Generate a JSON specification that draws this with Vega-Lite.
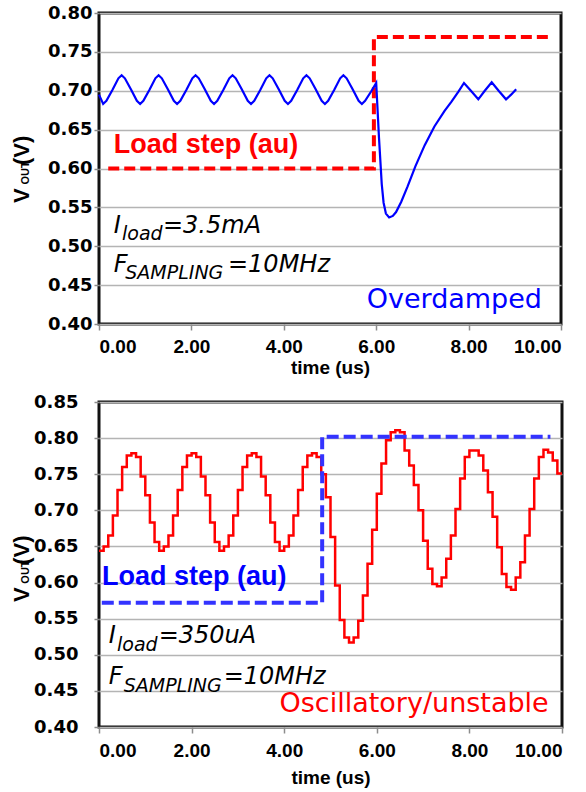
{
"$schema": "https://vega.github.io/schema/vega-lite/v6.json",
"background": "white",
"padding": {"left": 9, "top": 2, "right": 2, "bottom": 2},
"spacing": 12,
"datasets": {
"top_vout": [
{"t":0,"v":0.695},
{"t":0.09,"v":0.683},{"t":0.16,"v":0.687},{"t":0.29,"v":0.701},{"t":0.42,"v":0.716},{"t":0.49,"v":0.72},{"t":0.56,"v":0.716},{"t":0.69,"v":0.702},{"t":0.82,"v":0.687},
{"t":0.89,"v":0.683},{"t":0.96,"v":0.687},{"t":1.09,"v":0.701},{"t":1.22,"v":0.716},{"t":1.29,"v":0.72},{"t":1.36,"v":0.716},{"t":1.49,"v":0.702},{"t":1.62,"v":0.687},
{"t":1.69,"v":0.683},{"t":1.76,"v":0.687},{"t":1.89,"v":0.701},{"t":2.02,"v":0.716},{"t":2.09,"v":0.72},{"t":2.16,"v":0.716},{"t":2.29,"v":0.702},{"t":2.42,"v":0.687},
{"t":2.49,"v":0.683},{"t":2.56,"v":0.687},{"t":2.69,"v":0.701},{"t":2.82,"v":0.716},{"t":2.89,"v":0.72},{"t":2.96,"v":0.716},{"t":3.09,"v":0.702},{"t":3.22,"v":0.687},
{"t":3.29,"v":0.683},{"t":3.36,"v":0.687},{"t":3.49,"v":0.701},{"t":3.62,"v":0.716},{"t":3.69,"v":0.72},{"t":3.76,"v":0.716},{"t":3.89,"v":0.702},{"t":4.02,"v":0.687},
{"t":4.09,"v":0.683},{"t":4.16,"v":0.687},{"t":4.29,"v":0.701},{"t":4.42,"v":0.716},{"t":4.49,"v":0.72},{"t":4.56,"v":0.716},{"t":4.69,"v":0.702},{"t":4.82,"v":0.687},
{"t":4.89,"v":0.683},{"t":4.96,"v":0.687},{"t":5.09,"v":0.701},{"t":5.22,"v":0.716},{"t":5.29,"v":0.72},{"t":5.36,"v":0.716},{"t":5.49,"v":0.702},{"t":5.62,"v":0.687},
{"t":5.69,"v":0.683},{"t":5.76,"v":0.687},{"t":5.89,"v":0.699},{"t":6.0,"v":0.71},{"t":6.06,"v":0.64},{"t":6.12,"v":0.58},{"t":6.16,"v":0.556},{"t":6.21,"v":0.542},{"t":6.28,"v":0.537},{"t":6.36,"v":0.539},{"t":6.43,"v":0.544},{"t":6.54,"v":0.557},{"t":6.68,"v":0.577},{"t":6.85,"v":0.603},{"t":7.05,"v":0.63},{"t":7.26,"v":0.654},{"t":7.48,"v":0.674},{"t":7.63,"v":0.686},{"t":7.78,"v":0.699},{"t":7.9,"v":0.71},{"t":8.05,"v":0.7},{"t":8.21,"v":0.689},{"t":8.35,"v":0.7},{"t":8.5,"v":0.711},{"t":8.65,"v":0.7},{"t":8.81,"v":0.689},{"t":8.92,"v":0.695},{"t":9.03,"v":0.702}
],
"top_step": [
{"i":0,"t":0.2,"v":0.6},{"i":1,"t":5.95,"v":0.6},{"i":2,"t":5.95,"v":0.769},{"i":3,"t":9.77,"v":0.769}
],
"bot_step": [
{"i":0,"t":0.06,"v":0.572},{"i":1,"t":4.82,"v":0.572},{"i":2,"t":4.82,"v":0.802},{"i":3,"t":9.75,"v":0.802}
],
"bot_vout": [
{"t":0.0,"v":0.644},{"t":0.1,"v":0.65},{"t":0.2,"v":0.665},{"t":0.3,"v":0.693},{"t":0.4,"v":0.728},{"t":0.5,"v":0.76},{"t":0.6,"v":0.776},{"t":0.7,"v":0.779},{"t":0.8,"v":0.774},{"t":0.9,"v":0.747},{"t":1.0,"v":0.721},{"t":1.1,"v":0.683},{"t":1.2,"v":0.656},
{"t":1.3,"v":0.644},{"t":1.4,"v":0.65},{"t":1.5,"v":0.665},{"t":1.6,"v":0.693},{"t":1.7,"v":0.728},{"t":1.8,"v":0.76},{"t":1.9,"v":0.776},{"t":2.0,"v":0.779},{"t":2.1,"v":0.774},{"t":2.2,"v":0.747},{"t":2.3,"v":0.721},{"t":2.4,"v":0.683},{"t":2.5,"v":0.656},
{"t":2.6,"v":0.644},{"t":2.7,"v":0.65},{"t":2.8,"v":0.665},{"t":2.9,"v":0.693},{"t":3.0,"v":0.728},{"t":3.1,"v":0.76},{"t":3.2,"v":0.776},{"t":3.3,"v":0.779},{"t":3.4,"v":0.774},{"t":3.5,"v":0.747},{"t":3.6,"v":0.721},{"t":3.7,"v":0.683},{"t":3.8,"v":0.656},
{"t":3.9,"v":0.644},{"t":4.0,"v":0.65},{"t":4.1,"v":0.665},{"t":4.2,"v":0.693},{"t":4.3,"v":0.728},{"t":4.4,"v":0.76},{"t":4.5,"v":0.776},{"t":4.6,"v":0.779},{"t":4.7,"v":0.774},{"t":4.8,"v":0.75},{"t":4.9,"v":0.718},
{"t":5.0,"v":0.663},{"t":5.1,"v":0.596},{"t":5.2,"v":0.548},{"t":5.3,"v":0.524},{"t":5.4,"v":0.517},{"t":5.5,"v":0.524},{"t":5.6,"v":0.547},{"t":5.7,"v":0.582},{"t":5.8,"v":0.626},{"t":5.9,"v":0.673},
{"t":6.0,"v":0.723},{"t":6.1,"v":0.765},{"t":6.2,"v":0.797},{"t":6.3,"v":0.808},{"t":6.4,"v":0.811},{"t":6.5,"v":0.808},{"t":6.6,"v":0.783},{"t":6.7,"v":0.762},{"t":6.8,"v":0.735},{"t":6.9,"v":0.7},
{"t":7.0,"v":0.658},{"t":7.1,"v":0.619},{"t":7.2,"v":0.598},{"t":7.3,"v":0.595},{"t":7.4,"v":0.607},{"t":7.5,"v":0.633},{"t":7.6,"v":0.665},{"t":7.7,"v":0.702},{"t":7.8,"v":0.744},{"t":7.9,"v":0.774},
{"t":8.0,"v":0.783},{"t":8.1,"v":0.783},{"t":8.2,"v":0.776},{"t":8.3,"v":0.755},{"t":8.4,"v":0.725},{"t":8.5,"v":0.691},{"t":8.6,"v":0.649},{"t":8.7,"v":0.612},{"t":8.8,"v":0.594},{"t":8.9,"v":0.59},
{"t":9.0,"v":0.607},{"t":9.1,"v":0.628},{"t":9.2,"v":0.665},{"t":9.3,"v":0.702},{"t":9.4,"v":0.744},{"t":9.5,"v":0.774},{"t":9.6,"v":0.784},{"t":9.7,"v":0.78},{"t":9.8,"v":0.769},{"t":9.9,"v":0.751},{"t":10.0,"v":0.751}
]
},
"config": {
"view": {"stroke": "#111111", "strokeWidth": 3},
"axis": {"domain": false, "labelColor": "#000000", "tickColor": "#8c8c8c", "tickWidth": 1.5, "titleColor": "#000000", "labelOverlap": false}
},
"vconcat": [
{
"width": 462, "height": 311,
"encoding": {
  "x": {"field": "t", "type": "quantitative", "scale": {"domain": [0, 10], "nice": false},
        "axis": {"values": [0, 2, 4, 6, 8, 10], "tickCount": 6, "format": ".2f", "grid": false, "labelOverlap": false, "title": "time (us)", "titleFont": "Liberation Sans", "titleFontSize": 19, "titleFontWeight": "bold", "titlePadding": 2, "labelFont": "Liberation Sans", "labelFontWeight": "bold", "labelFontSize": 19, "labelPadding": 7, "tickSize": 6}},
  "y": {"field": "v", "type": "quantitative", "scale": {"domain": [0.4, 0.8], "nice": false, "zero": false},
        "axis": {"values": [0.4, 0.45, 0.5, 0.55, 0.6, 0.65, 0.7, 0.75, 0.8], "tickCount": 9, "format": ".2f", "labelOverlap": false, "title": null, "grid": true, "gridColor": "#b4b4b4", "gridWidth": 1.5, "labelFont": "DejaVu Sans", "labelFontWeight": "bold", "labelFontSize": 18, "labelPadding": 2, "tickSize": 5}}
},
"layer": [
{"data": {"name": "top_step"},
 "mark": {"type": "line", "color": "#ff0000", "strokeWidth": 4, "strokeDash": [11, 5]},
 "encoding": {"order": {"field": "i"}}},
{"data": {"name": "top_vout"},
 "mark": {"type": "line", "color": "#0000ff", "strokeWidth": 2.2},
 "encoding": {}},
{"data": {"values": [{"t": 0.318, "v": 0.62}]}, "mark": {"type": "text", "text": "Load step (au)", "align": "left", "baseline": "alphabetic", "font": "Liberation Sans", "fontWeight": "bold", "fontSize": 27, "color": "#ff0000"}},
{"data": {"values": [{"t": 0.318, "v": 0.5174}]}, "mark": {"type": "text", "text": "I", "align": "left", "baseline": "alphabetic", "font": "DejaVu Sans", "fontStyle": "italic", "fontSize": 24, "color": "#000000"}},
{"data": {"values": [{"t": 0.498, "v": 0.508}]}, "mark": {"type": "text", "text": "load", "align": "left", "baseline": "alphabetic", "font": "DejaVu Sans", "fontStyle": "italic", "fontSize": 19, "color": "#000000"}},
{"data": {"values": [{"t": 1.385, "v": 0.5174}]}, "mark": {"type": "text", "text": "=3.5mA", "align": "left", "baseline": "alphabetic", "font": "DejaVu Sans", "fontStyle": "italic", "fontSize": 24, "color": "#000000"}},
{"data": {"values": [{"t": 0.318, "v": 0.4673}]}, "mark": {"type": "text", "text": "F", "align": "left", "baseline": "alphabetic", "font": "DejaVu Sans", "fontStyle": "italic", "fontSize": 24, "color": "#000000"}},
{"data": {"values": [{"t": 0.569, "v": 0.4575}]}, "mark": {"type": "text", "text": "SAMPLING", "align": "left", "baseline": "alphabetic", "font": "DejaVu Sans", "fontStyle": "italic", "fontSize": 19, "color": "#000000"}},
{"data": {"values": [{"t": 2.792, "v": 0.4673}]}, "mark": {"type": "text", "text": "=10MHz", "align": "left", "baseline": "alphabetic", "font": "DejaVu Sans", "fontStyle": "italic", "fontSize": 24, "color": "#000000"}},
{"data": {"values": [{"t": 9.589, "v": 0.4202}]}, "mark": {"type": "text", "text": "Overdamped", "align": "right", "baseline": "alphabetic", "font": "DejaVu Sans", "fontSize": 27, "color": "#0000ff"}},
{"data": {"values": [{"t": -1.667, "v": 0.5556}]}, "mark": {"type": "text", "text": "V", "angle": 270, "align": "left", "baseline": "middle", "font": "Liberation Sans", "fontWeight": "bold", "fontSize": 22, "color": "#000000"}},
{"data": {"values": [{"t": -1.58, "v": 0.5795}]}, "mark": {"type": "text", "text": "OUT", "angle": 270, "align": "left", "baseline": "middle", "font": "Liberation Sans", "fontWeight": "bold", "fontSize": 11, "color": "#000000"}},
{"data": {"values": [{"t": -1.667, "v": 0.6045}]}, "mark": {"type": "text", "text": "(V)", "angle": 270, "align": "left", "baseline": "middle", "font": "Liberation Sans", "fontWeight": "bold", "fontSize": 22, "color": "#000000"}}
]
},
{
"width": 463, "height": 325,
"encoding": {
  "x": {"field": "t", "type": "quantitative", "scale": {"domain": [0, 10], "nice": false},
        "axis": {"values": [0, 2, 4, 6, 8, 10], "tickCount": 6, "format": ".2f", "grid": false, "labelOverlap": false, "title": "time (us)", "titleFont": "Liberation Sans", "titleFontSize": 19, "titleFontWeight": "bold", "titlePadding": 8, "labelFont": "Liberation Sans", "labelFontWeight": "bold", "labelFontSize": 19, "labelPadding": 8, "tickSize": 6}},
  "y": {"field": "v", "type": "quantitative", "scale": {"domain": [0.4, 0.85], "nice": false, "zero": false},
        "axis": {"values": [0.4, 0.45, 0.5, 0.55, 0.6, 0.65, 0.7, 0.75, 0.8, 0.85], "tickCount": 10, "format": ".2f", "labelOverlap": false, "title": null, "grid": true, "gridColor": "#b4b4b4", "gridWidth": 1.5, "labelFont": "DejaVu Sans", "labelFontWeight": "bold", "labelFontSize": 18, "labelPadding": 16, "tickSize": 5}}
},
"layer": [
{"data": {"name": "bot_vout"},
 "mark": {"type": "line", "color": "#ff0000", "strokeWidth": 2.5, "interpolate": "step-after"},
 "encoding": {}},
{"data": {"name": "bot_step"},
 "mark": {"type": "line", "color": "#3333ff", "strokeWidth": 4, "strokeDash": [12, 5]},
 "encoding": {"order": {"field": "i"}}},
{"data": {"values": [{"t": 0.065, "v": 0.5966}]}, "mark": {"type": "text", "text": "Load step (au)", "align": "left", "baseline": "alphabetic", "font": "Liberation Sans", "fontWeight": "bold", "fontSize": 27, "color": "#0000ff"}},
{"data": {"values": [{"t": 0.21, "v": 0.5159}]}, "mark": {"type": "text", "text": "I", "align": "left", "baseline": "alphabetic", "font": "DejaVu Sans", "fontStyle": "italic", "fontSize": 24, "color": "#000000"}},
{"data": {"values": [{"t": 0.389, "v": 0.5056}]}, "mark": {"type": "text", "text": "load", "align": "left", "baseline": "alphabetic", "font": "DejaVu Sans", "fontStyle": "italic", "fontSize": 19, "color": "#000000"}},
{"data": {"values": [{"t": 1.289, "v": 0.5159}]}, "mark": {"type": "text", "text": "=350uA", "align": "left", "baseline": "alphabetic", "font": "DejaVu Sans", "fontStyle": "italic", "fontSize": 24, "color": "#000000"}},
{"data": {"values": [{"t": 0.21, "v": 0.4595}]}, "mark": {"type": "text", "text": "F", "align": "left", "baseline": "alphabetic", "font": "DejaVu Sans", "fontStyle": "italic", "fontSize": 24, "color": "#000000"}},
{"data": {"values": [{"t": 0.533, "v": 0.4489}]}, "mark": {"type": "text", "text": "SAMPLING", "align": "left", "baseline": "alphabetic", "font": "DejaVu Sans", "fontStyle": "italic", "fontSize": 19, "color": "#000000"}},
{"data": {"values": [{"t": 2.693, "v": 0.4595}]}, "mark": {"type": "text", "text": "=10MHz", "align": "left", "baseline": "alphabetic", "font": "DejaVu Sans", "fontStyle": "italic", "fontSize": 24, "color": "#000000"}},
{"data": {"values": [{"t": 9.713, "v": 0.4212}]}, "mark": {"type": "text", "text": "Oscillatory/unstable", "align": "right", "baseline": "alphabetic", "font": "DejaVu Sans", "fontSize": 27, "color": "#ff0000"}},
{"data": {"values": [{"t": -1.663, "v": 0.5731}]}, "mark": {"type": "text", "text": "V", "angle": 270, "align": "left", "baseline": "middle", "font": "Liberation Sans", "fontWeight": "bold", "fontSize": 22, "color": "#000000"}},
{"data": {"values": [{"t": -1.577, "v": 0.5985}]}, "mark": {"type": "text", "text": "OUT", "angle": 270, "align": "left", "baseline": "middle", "font": "Liberation Sans", "fontWeight": "bold", "fontSize": 11, "color": "#000000"}},
{"data": {"values": [{"t": -1.663, "v": 0.6245}]}, "mark": {"type": "text", "text": "(V)", "angle": 270, "align": "left", "baseline": "middle", "font": "Liberation Sans", "fontWeight": "bold", "fontSize": 22, "color": "#000000"}}
]
}
]
}
